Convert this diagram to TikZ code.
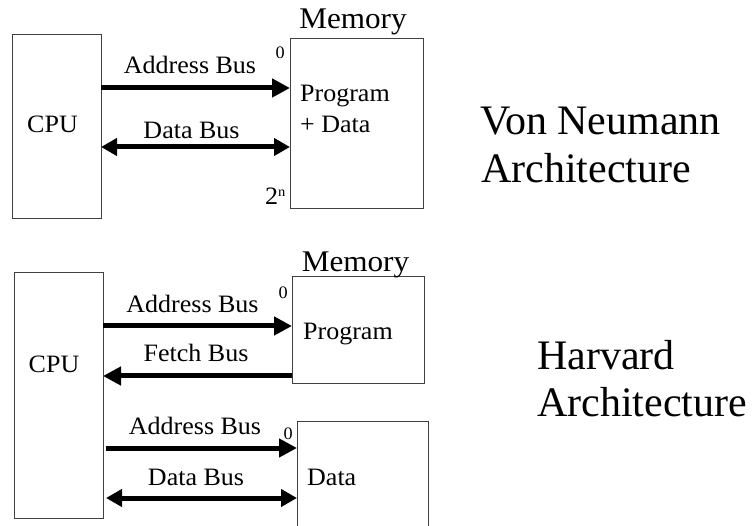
\documentclass[tikz,border=0pt]{standalone}
\usepackage{fontspec}
\setmainfont{Liberation Serif}[FakeStretch=1.04]
\newfontfamily\titlefont{Liberation Serif}
\usetikzlibrary{arrows.meta}

\begin{document}
\begin{tikzpicture}[x=1pt,y=-1pt,
  unit/.style={draw=black!75, line width=1pt, anchor=north west,
    inner sep=0pt, outer sep=0pt},
  bus/.style={line width=5pt, -{Triangle[length=18pt,width=18pt]}},
  dbus/.style={line width=5pt,
    {Triangle[length=16pt,width=17pt]}-{Triangle[length=16pt,width=17pt]}},
  lbl/.style={inner sep=0pt, anchor=base, font=\fontsize{25}{28}\selectfont},
  intext/.style={inner sep=0pt, anchor=base west, font=\fontsize{25}{28}\selectfont},
  memlbl/.style={inner sep=0pt, anchor=base, font=\fontsize{30}{32}\selectfont},
  addr/.style={inner sep=0pt, anchor=base east, font=\fontsize{17.5}{18}\selectfont},
  title/.style={inner sep=0pt, anchor=base west, font=\titlefont\fontsize{42}{48}\selectfont}
]
\clip (0,0) rectangle (755,526);
\fill[white] (0,0) rectangle (755,526);

% ---------- Von Neumann ----------
\node[unit, minimum width=89pt, minimum height=184pt] (cpuA) at (12,35) {};
\node[unit, minimum width=133pt, minimum height=170pt] (memA) at (290,39) {};
\node[lbl] (cpuAtxt) at (52.5,133) {CPU};
\node[memlbl] (memAlbl) at (353,29) {Memory};
\node[addr] (memAzero) at (285,59) {0};
\node[inner sep=0pt, anchor=base west] (memAtop) at (265,205)
  {\fontsize{25}{28}\selectfont 2\raisebox{8pt}{\fontsize{14}{14}\selectfont n}};
\node[intext] (progA) at (300,102) {Program};
\node[intext] (dataA) at (300,133) {+ Data};

\coordinate (yAddrA) at (0,88);
\coordinate (yDataA) at (0,147);
\draw[bus] (cpuA.east |- yAddrA) -- (memA.west |- yAddrA);
\draw[dbus] (cpuA.east |- yDataA) -- (memA.west |- yDataA);
\node[lbl] (addrAlbl) at (190,74) {Address Bus};
\node[lbl] (dataAlbl) at (191.5,139) {Data Bus};

\node[title] (vn1) at (480,135) {Von Neumann};
\node[title] (vn2) at (481,183) {Architecture};

% ---------- Harvard ----------
\node[unit, minimum width=89pt, minimum height=245pt] (cpuB) at (14,273) {};
\node[unit, minimum width=132pt, minimum height=107pt] (progB) at (292,277) {};
\node[unit, minimum width=131pt, minimum height=130pt] (dataB) at (297,421) {};
\node[lbl] (cpuBtxt) at (54,373) {CPU};
\node[memlbl] (memBlbl) at (355.5,272) {Memory};
\node[addr] (progBzero) at (288,299) {0};
\node[addr] (dataBzero) at (293,439) {0};
\node[intext] (progBtxt) at (303,340) {Program};
\node[intext] (dataBtxt) at (307,485) {Data};

\coordinate (yAddrB) at (0,326);
\coordinate (yFetchB) at (0,376);
\coordinate (yAddrC) at (0,448);
\coordinate (yDataC) at (0,498);
\draw[bus] (cpuB.east |- yAddrB) -- (progB.west |- yAddrB);
\draw[bus] (progB.west |- yFetchB) -- (cpuB.east |- yFetchB);
\draw[bus, shorten <=3pt] (cpuB.east |- yAddrC) -- (dataB.west |- yAddrC);
\draw[dbus, shorten <=3pt] (cpuB.east |- yDataC) -- (dataB.west |- yDataC);
\node[lbl] (addrBlbl) at (192.5,313) {Address Bus};
\node[lbl] (fetchBlbl) at (196,362) {Fetch Bus};
\node[lbl] (addrClbl) at (195,435) {Address Bus};
\node[lbl] (dataClbl) at (196,485) {Data Bus};

\node[title] (hv1) at (537,370) {Harvard};
\node[title] (hv2) at (537,417) {Architecture};
\end{tikzpicture}
\end{document}
